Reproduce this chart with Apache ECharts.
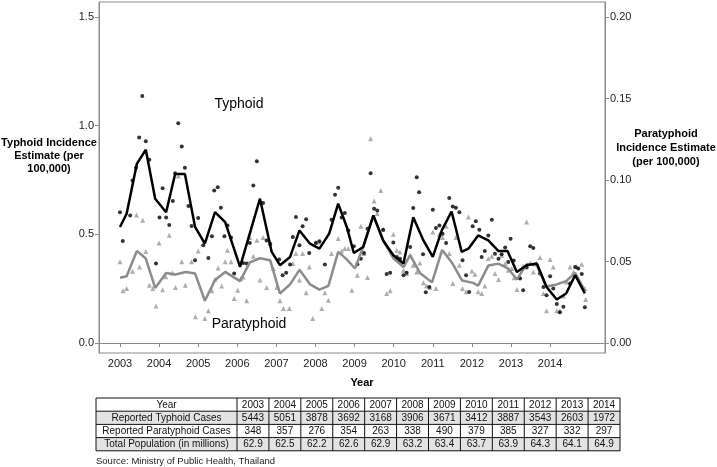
<!DOCTYPE html>
<html><head><meta charset="utf-8">
<script src="https://cdn.jsdelivr.net/npm/echarts@6/dist/echarts.min.js"></script>
<style>html,body{margin:0;padding:0;background:#fff}#c{width:717px;height:467px}</style>
</head><body><div id="c"></div>
<script>
// ---- tick labels ----
const yearTicks = [2003,2004,2005,2006,2007,2008,2009,2010,2011,2012,2013,2014];
const leftTicks = [0, 0.5, 1.0, 1.5];
const rightTicks = [0, 0.05, 0.10, 0.15, 0.20];

// ---- smoothed incidence lines [year, value] ----
const typhoidLine = [[2003.00,0.534],[2003.17,0.595],[2003.43,0.824],[2003.66,0.889],[2003.90,0.664],[2004.18,0.602],[2004.41,0.778],[2004.66,0.778],[2004.92,0.534],[2005.17,0.457],[2005.43,0.602],[2005.69,0.556],[2006.07,0.350],[2006.58,0.664],[2006.88,0.419],[2007.09,0.358],[2007.35,0.396],[2007.59,0.518],[2007.86,0.457],[2008.10,0.434],[2008.35,0.503],[2008.58,0.641],[2008.80,0.534],[2008.98,0.414],[2009.22,0.442],[2009.48,0.587],[2009.73,0.472],[2009.99,0.404],[2010.25,0.366],[2010.50,0.579],[2010.76,0.472],[2011.00,0.396],[2011.23,0.518],[2011.48,0.605],[2011.74,0.419],[2011.91,0.434],[2012.16,0.495],[2012.42,0.472],[2012.68,0.423],[2012.91,0.423],[2013.15,0.327],[2013.40,0.358],[2013.66,0.366],[2013.91,0.258],[2014.17,0.200],[2014.41,0.228],[2014.64,0.312],[2014.89,0.228]];
const paratyphoidLine = [[2003.00,0.0400],[2003.17,0.0410],[2003.43,0.0565],[2003.66,0.0518],[2003.90,0.0338],[2004.18,0.0430],[2004.42,0.0420],[2004.68,0.0436],[2004.92,0.0427],[2005.17,0.0259],[2005.43,0.0386],[2005.69,0.0436],[2006.07,0.0380],[2006.32,0.0495],[2006.58,0.0520],[2006.84,0.0508],[2007.09,0.0304],[2007.35,0.0360],[2007.59,0.0449],[2007.86,0.0360],[2008.10,0.0327],[2008.33,0.0350],[2008.58,0.0559],[2008.80,0.0513],[2009.01,0.0457],[2009.22,0.0590],[2009.48,0.0783],[2009.73,0.0630],[2009.99,0.0520],[2010.25,0.0466],[2010.42,0.0539],[2010.67,0.0430],[2010.98,0.0372],[2011.24,0.0571],[2011.49,0.0493],[2011.75,0.0383],[2012.03,0.0369],[2012.16,0.0352],[2012.42,0.0475],[2012.68,0.0487],[2012.93,0.0457],[2013.15,0.0390],[2013.40,0.0483],[2013.66,0.0477],[2013.90,0.0347],[2014.15,0.0358],[2014.41,0.0380],[2014.64,0.0430],[2014.89,0.0320]];

// ---- monthly estimates [year, value] ----
const typhoidPoints = [[2003.00,0.602],[2003.07,0.469],[2003.26,0.587],[2003.32,0.748],[2003.41,0.806],[2003.49,0.946],[2003.57,1.136],[2003.66,0.928],[2003.75,0.843],[2003.92,0.366],[2004.01,0.577],[2004.09,0.712],[2004.18,0.577],[2004.26,0.543],[2004.35,0.653],[2004.41,0.781],[2004.49,1.011],[2004.58,0.904],[2004.66,0.806],[2004.75,0.630],[2004.83,0.538],[2004.92,0.381],[2005.00,0.575],[2005.13,0.450],[2005.26,0.391],[2005.35,0.491],[2005.41,0.702],[2005.50,0.717],[2005.58,0.622],[2005.67,0.491],[2005.75,0.541],[2005.84,0.485],[2005.92,0.320],[2006.15,0.368],[2006.24,0.366],[2006.32,0.460],[2006.41,0.725],[2006.50,0.836],[2006.66,0.644],[2006.75,0.472],[2006.84,0.457],[2007.07,0.384],[2007.16,0.312],[2007.25,0.323],[2007.35,0.361],[2007.42,0.488],[2007.50,0.580],[2007.59,0.450],[2007.67,0.537],[2007.76,0.569],[2007.84,0.414],[2008.01,0.460],[2008.10,0.468],[2008.24,0.361],[2008.41,0.567],[2008.50,0.682],[2008.58,0.714],[2008.67,0.577],[2008.75,0.598],[2008.84,0.518],[2008.98,0.445],[2009.07,0.362],[2009.16,0.388],[2009.24,0.414],[2009.33,0.526],[2009.41,0.781],[2009.50,0.618],[2009.58,0.610],[2009.73,0.521],[2009.82,0.317],[2009.91,0.323],[2009.99,0.462],[2010.08,0.396],[2010.16,0.388],[2010.25,0.312],[2010.33,0.323],[2010.42,0.442],[2010.50,0.621],[2010.59,0.763],[2010.65,0.694],[2010.75,0.408],[2010.82,0.233],[2010.91,0.258],[2011.00,0.613],[2011.08,0.529],[2011.17,0.541],[2011.25,0.503],[2011.34,0.460],[2011.42,0.667],[2011.51,0.628],[2011.59,0.622],[2011.68,0.602],[2011.76,0.381],[2011.85,0.312],[2011.93,0.235],[2012.02,0.537],[2012.10,0.560],[2012.19,0.521],[2012.25,0.396],[2012.33,0.423],[2012.42,0.495],[2012.51,0.567],[2012.59,0.411],[2012.68,0.388],[2012.76,0.408],[2012.85,0.439],[2012.93,0.373],[2012.99,0.480],[2013.07,0.380],[2013.23,0.297],[2013.31,0.243],[2013.40,0.347],[2013.49,0.445],[2013.57,0.437],[2013.74,0.320],[2013.83,0.258],[2013.91,0.220],[2014.00,0.307],[2014.08,0.251],[2014.17,0.179],[2014.25,0.141],[2014.34,0.167],[2014.51,0.274],[2014.64,0.350],[2014.72,0.343],[2014.81,0.317],[2014.89,0.164]];
const paratyphoidPoints = [[2003.00,0.0498],[2003.08,0.0320],[2003.17,0.0335],[2003.32,0.0440],[2003.42,0.0785],[2003.50,0.0467],[2003.58,0.0753],[2003.66,0.0562],[2003.75,0.0355],[2003.84,0.0335],[2003.92,0.0227],[2004.00,0.0614],[2004.09,0.0327],[2004.17,0.0406],[2004.26,0.0661],[2004.34,0.0430],[2004.42,0.0341],[2004.49,0.1025],[2004.58,0.0498],[2004.67,0.0355],[2004.83,0.0498],[2004.93,0.0161],[2005.00,0.0565],[2005.17,0.0151],[2005.26,0.0198],[2005.35,0.0320],[2005.43,0.0390],[2005.51,0.0460],[2005.60,0.0349],[2005.69,0.0498],[2005.75,0.0569],[2005.84,0.0498],[2005.92,0.0273],[2006.01,0.0324],[2006.09,0.0395],[2006.15,0.0405],[2006.24,0.0259],[2006.32,0.0647],[2006.41,0.0532],[2006.50,0.0630],[2006.58,0.0386],[2006.66,0.0647],[2006.75,0.0341],[2006.84,0.0610],[2006.92,0.0457],[2007.01,0.0341],[2007.09,0.0259],[2007.18,0.0212],[2007.33,0.0212],[2007.42,0.0488],[2007.50,0.0549],[2007.59,0.0386],[2007.67,0.0549],[2007.76,0.0308],[2007.84,0.0467],[2007.93,0.0151],[2008.01,0.0620],[2008.10,0.0620],[2008.16,0.0212],[2008.24,0.0308],[2008.33,0.0263],[2008.41,0.0549],[2008.58,0.0641],[2008.67,0.0565],[2008.75,0.0580],[2008.84,0.0580],[2008.93,0.0324],[2009.07,0.0416],[2009.16,0.0716],[2009.24,0.0549],[2009.33,0.0402],[2009.41,0.1253],[2009.50,0.0871],[2009.58,0.0794],[2009.67,0.0936],[2009.73,0.0696],[2009.82,0.0304],[2009.91,0.0320],[2009.99,0.0667],[2010.08,0.0569],[2010.16,0.0559],[2010.25,0.0447],[2010.33,0.0427],[2010.42,0.0539],[2010.50,0.0477],[2010.59,0.0436],[2010.67,0.0491],[2010.76,0.0369],[2010.84,0.0349],[2010.93,0.0341],[2011.00,0.0681],[2011.08,0.0335],[2011.17,0.0667],[2011.25,0.0647],[2011.34,0.0716],[2011.42,0.0549],[2011.51,0.0365],[2011.59,0.0647],[2011.68,0.0477],[2011.76,0.0335],[2011.85,0.0314],[2011.91,0.0773],[2012.00,0.0442],[2012.08,0.0422],[2012.16,0.0314],[2012.25,0.0304],[2012.33,0.0349],[2012.42,0.0518],[2012.51,0.0532],[2012.59,0.0427],[2012.68,0.0390],[2012.76,0.0539],[2012.85,0.0488],[2012.93,0.0447],[2013.02,0.0457],[2013.08,0.0400],[2013.15,0.0329],[2013.23,0.0406],[2013.31,0.0471],[2013.40,0.0742],[2013.49,0.0491],[2013.57,0.0436],[2013.66,0.0488],[2013.74,0.0524],[2013.83,0.0304],[2013.91,0.0198],[2014.00,0.0512],[2014.08,0.0467],[2014.17,0.0198],[2014.25,0.0198],[2014.34,0.0288],[2014.42,0.0375],[2014.51,0.0467],[2014.60,0.0436],[2014.68,0.0470],[2014.81,0.0483],[2014.89,0.0335],[2014.91,0.0267]];

// ---- table ----
const tableHeader = 'Year';
const tableYears = ['2003','2004','2005','2006','2007','2008','2009','2010','2011','2012','2013','2014'];
const rowLabels = ['Reported Typhoid Cases','Reported Paratyphoid Cases','Total Population (in millions)'];
const typhoidCases = ['5443','5051','3878','3692','3168','3906','3671','3412','3887','3543','2603','1972'];
const paratyphoidCases = ['348','357','276','354','263','338','490','379','385','327','332','297'];
const population = ['62.9','62.5','62.2','62.6','62.9','63.2','63.4','63.7','63.9','64.3','64.1','64.9'];
const sourceText = 'Source: Ministry of Public Health, Thailand';

const FONT = '"Liberation Sans", Arial, sans-serif';

function buildTable() {
  const x0 = 96, c1 = 237, x1 = 620, y0 = 398, rh = 13.2;
  const cw = (x1 - c1) / tableYears.length;
  const rows = [[tableHeader].concat(tableYears),
                [rowLabels[0]].concat(typhoidCases),
                [rowLabels[1]].concat(paratyphoidCases),
                [rowLabels[2]].concat(population)];
  const els = [];
  rows.forEach((row, r) => {
    const y = y0 + r * rh;
    if (r % 2 === 1) {
      els.push({type:'rect', shape:{x:x0, y:y, width:x1-x0, height:rh}, style:{fill:'#e3e3e3'}, z:1});
    }
    row.forEach((txt, c) => {
      const cx = c === 0 ? (x0 + c1) / 2 : c1 + (c - 0.5) * cw;
      els.push({type:'text', x:cx, y:y + rh/2 + 0.5, z:3,
        style:{text:txt, fill:'#111', font:'10px ' + FONT, textAlign:'center', textVerticalAlign:'middle'}});
    });
  });
  // grid lines
  for (let r = 0; r <= rows.length; r++) {
    const y = y0 + r * rh;
    els.push({type:'line', shape:{x1:x0, y1:y, x2:x1, y2:y}, style:{stroke:'#111', lineWidth:1}, z:2});
  }
  const xs = [x0, c1];
  for (let c = 1; c <= tableYears.length; c++) xs.push(c1 + c * cw);
  xs.forEach(x => els.push({type:'line', shape:{x1:x, y1:y0, x2:x, y2:y0 + rows.length*rh}, style:{stroke:'#111', lineWidth:1}, z:2}));
  els.push({type:'text', x:x0, y:461, z:3, style:{text:sourceText, fill:'#222', font:'9.5px ' + FONT, textAlign:'left', textVerticalAlign:'middle'}});
  return els;
}

const chart = echarts.init(document.getElementById('c'), null, {renderer:'canvas'});
const axisGray = '#8a8a8a';
chart.setOption({
  animation: false,
  backgroundColor: '#fff',
  grid: {left: 99, right: 112, top: 2, bottom: 114, show: true, borderColor: axisGray, borderWidth: 1},
  xAxis: {
    type: 'value', min: 2002.463, max: 2015.404,
    axisLine: {show: true, lineStyle: {color: axisGray}},
    axisTick: {show: true, length: 4, customValues: yearTicks, lineStyle: {color: axisGray}},
    axisLabel: {customValues: yearTicks, formatter: v => String(Math.round(v)), color: '#222', fontSize: 11, fontFamily: FONT, margin: 5},
    splitLine: {show: false}
  },
  yAxis: [{
    type: 'value', min: -0.046, max: 1.569, position: 'left',
    axisLine: {show: true, lineStyle: {color: axisGray}},
    axisTick: {show: true, length: 4, customValues: leftTicks, lineStyle: {color: axisGray}},
    axisLabel: {customValues: leftTicks, formatter: v => v.toFixed(1), color: '#222', fontSize: 11, fontFamily: FONT, margin: 5},
    splitLine: {show: false}
  }, {
    type: 'value', min: -0.00613, max: 0.2092, position: 'right',
    axisLine: {show: true, lineStyle: {color: axisGray}},
    axisTick: {show: true, length: 4, customValues: rightTicks, lineStyle: {color: axisGray}},
    axisLabel: {customValues: rightTicks, formatter: v => v.toFixed(2), color: '#222', fontSize: 11, fontFamily: FONT, margin: 5},
    splitLine: {show: false}
  }],
  series: [
    {type: 'scatter', yAxisIndex: 1, data: paratyphoidPoints, symbol: 'triangle', symbolSize: 5,
     itemStyle: {color: '#9a9a9a'}, z: 2},
    {type: 'scatter', yAxisIndex: 0, data: typhoidPoints, symbol: 'circle', symbolSize: 4,
     itemStyle: {color: '#000'}, z: 2},
    {type: 'line', yAxisIndex: 1, data: paratyphoidLine, showSymbol: false, symbol: 'none',
     lineStyle: {color: '#8c8c8c', width: 2.5}, z: 3},
    {type: 'line', yAxisIndex: 0, data: typhoidLine, showSymbol: false, symbol: 'none',
     lineStyle: {color: '#000', width: 2.5}, z: 4}
  ],
  graphic: [
    {type:'text', x:239, y:104, style:{text:'Typhoid', fill:'#000', font:'14px ' + FONT, textAlign:'center', textVerticalAlign:'middle'}},
    {type:'text', x:249, y:324, style:{text:'Paratyphoid', fill:'#000', font:'14px ' + FONT, textAlign:'center', textVerticalAlign:'middle'}},
    {type:'text', x:49, y:156, style:{text:'Typhoid Incidence\nEstimate (per\n100,000)', fill:'#000', font:'bold 11px ' + FONT, textAlign:'center', textVerticalAlign:'middle', lineHeight:12.8}},
    {type:'text', x:666, y:148, style:{text:'Paratyphoid\nIncidence Estimate\n(per 100,000)', fill:'#000', font:'bold 11px ' + FONT, textAlign:'center', textVerticalAlign:'middle', lineHeight:13.7}},
    {type:'text', x:362, y:383, style:{text:'Year', fill:'#000', font:'bold 11px ' + FONT, textAlign:'center', textVerticalAlign:'middle'}}
  ].concat(buildTable())
});
</script>
</body></html>
